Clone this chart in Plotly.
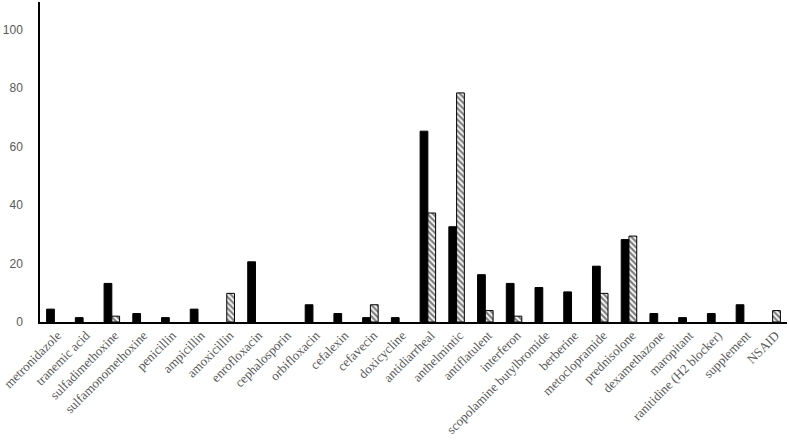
import plotly.graph_objects as go

categories = [
    "metronidazole", "tranemic acid", "sulfadimethoxine", "sulfamonomethoxine",
    "penicillin", "ampicillin", "amoxicillin", "enrofloxacin", "cephalosporin",
    "orbifloxacin", "cefalexin", "cefavecin", "doxicycline", "antidiarrheal",
    "anthelmintic", "antiflatulent", "interferon", "scopolamine butylbromide",
    "berberine", "metoclopramide", "prednisolone", "dexamethazone", "maropitant",
    "ranitidine (H2 blocker)", "supplement", "NSAID",
]
# None = no bar drawn for that category
solid_values = [
    4.4, 1.5, 13.2, 2.9, 1.5, 4.4, None, 20.6, None, 5.9, 2.9, 1.5, 1.5, 65.3,
    32.6, 16.2, 13.2, 11.8, 10.3, 19.1, 28.2, 2.9, 1.5, 2.9, 5.9, None,
]
hatched_values = [
    None, None, 2.0, None, None, None, 9.8, None, None, None, None, 5.9, None, 37.3,
    78.4, 3.9, 2.0, None, None, 9.8, 29.4, None, None, None, None, 3.9,
]
y_ticks = [0, 20, 40, 60, 80, 100]

fig = go.Figure(data=[
    go.Bar(
        x=categories, y=solid_values, marker_color="#000000",
        marker_line=dict(color="#000000", width=1),
    ),
    go.Bar(
        x=categories, y=hatched_values,
        marker=dict(
            color="#ffffff",
            line=dict(color="#000000", width=1),
            pattern=dict(shape="\\", fgcolor="#000000", bgcolor="#ffffff",
                         size=4, solidity=0.55),
        ),
    ),
])

fig.update_layout(
    barmode="group",
    bargap=0.46,
    bargroupgap=0,
    showlegend=False,
    width=789,
    height=441,
    margin=dict(l=40, r=2, t=2, b=119),
    plot_bgcolor="#ffffff",
    paper_bgcolor="#ffffff",
)
fig.update_xaxes(
    showline=True, linecolor="#000000", linewidth=1.5,
    showgrid=False, ticks="", tickangle=-45, automargin=False,
    ticklabelshift=3, ticklabelstandoff=-1,
    tickfont=dict(family="Liberation Serif", size=13, color="#595959"),
)
fig.update_yaxes(
    range=[0, 109.5], tickvals=y_ticks, automargin=False,
    showline=True, linecolor="#000000", linewidth=1.5,
    showgrid=False, ticks="", zeroline=False, ticklabelstandoff=13,
    tickfont=dict(family="Liberation Sans", size=12, color="#595959"),
)

# drop the browser's default 8px body margin so the figure sits at 0,0
fig.write_html(
    "out.html",
    config={"displayModeBar": False},
    post_script="document.body.style.margin='0';",
)
